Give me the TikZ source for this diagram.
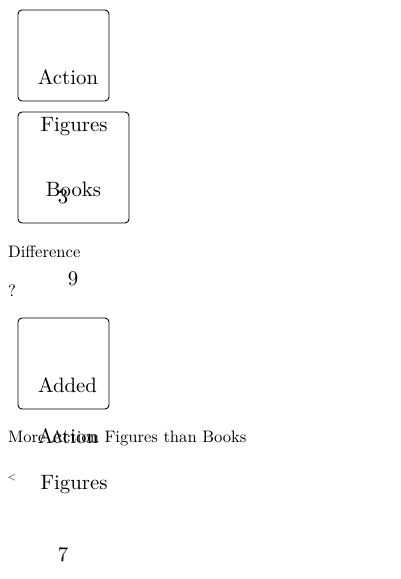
\documentclass[tikz,border=0pt]{standalone}
\newcommand\bigtxt[1]{\scalebox{2.08}{#1}}
\newcommand\smalltxt[1]{\scalebox{1.66}{#1}}
\begin{document}
\begin{tikzpicture}[x=1pt,y=-1pt,
  card/.style={draw=black,line width=0.9pt,rounded corners=4pt,inner sep=0pt},
  big/.style={inner sep=0pt},
  small/.style={inner sep=0pt,anchor=west}]
\useasboundingbox (0,0) rectangle (400,579);
% boxes
\node[card,minimum width=91pt,minimum height=91pt] (b1) at (63.5,55.5) {};
\node[card,minimum width=111pt,minimum height=111pt] (b2) at (73.5,167.5) {};
\node[card,minimum width=91pt,minimum height=91pt] (b3) at (63.5,363.5) {};
% large texts
\node[big] (t1) at (68,77) {\bigtxt{Action}};
\node[big] (t2) at (74,127) {\bigtxt{Figures}};
\node[big] (t3) at (73.5,189) {\bigtxt{Books}};
\node[big] (n3) at (63,197) {\bigtxt{3}};
\node[big] (n9) at (73,279) {\bigtxt{9}};
\node[big] (t4) at (67.5,385) {\bigtxt{Added}};
\node[big] (t5) at (68,436) {\bigtxt{Action}};
\node[big] (t6) at (74,485) {\bigtxt{Figures}};
\node[big] (n7) at (63,555) {\bigtxt{7}};
% small texts
\node[small] (s1) at (8,252) {\smalltxt{Difference}};
\node[small] (s2) at (8,291) {\smalltxt{?}};
\node[small] (s3) at (8,438) {\smalltxt{More Action Figures than Books}};
\node[small] (s4) at (7.5,478) {\scalebox{1.1}{<}};
\end{tikzpicture}
\end{document}
